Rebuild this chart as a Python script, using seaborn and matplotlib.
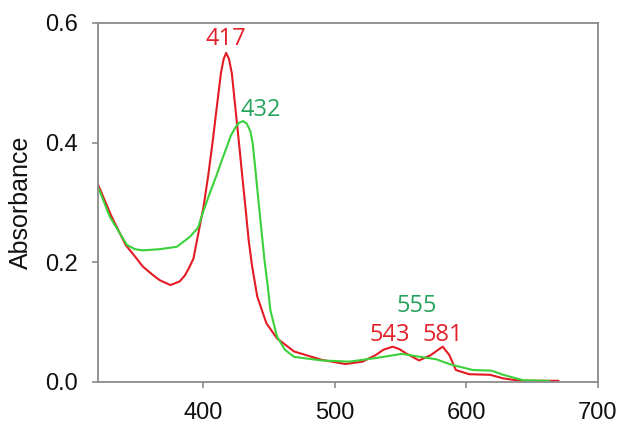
import matplotlib
matplotlib.use("Agg")
import matplotlib.pyplot as plt
import pandas as pd
import seaborn as sns

# red spectrum (Soret 417, Q bands 543 / 581)
RED_NM = [320, 330, 341, 348, 354, 361, 367, 375, 382, 386, 389, 392.5, 396.3,
          400.2, 404, 407.3, 410.3, 413.4, 415.5, 417.4, 419.5, 421.7, 424.3,
          426.9, 429.4, 432, 434.5, 437, 441, 448, 456, 469, 490, 508, 521, 531,
          537, 544, 549, 554, 564, 573, 578, 582, 587, 592, 602, 618, 628, 641,
          656, 670]
RED_ABS = [0.330, 0.278, 0.229, 0.210, 0.193, 0.180, 0.170, 0.162, 0.168, 0.178,
           0.190, 0.206, 0.249, 0.293, 0.349, 0.405, 0.460, 0.516, 0.540, 0.550,
           0.540, 0.516, 0.460, 0.405, 0.349, 0.293, 0.237, 0.195, 0.143, 0.098,
           0.073, 0.051, 0.037, 0.030, 0.034, 0.045, 0.054, 0.059, 0.055, 0.048,
           0.036, 0.045, 0.053, 0.059, 0.045, 0.020, 0.013, 0.012, 0.006, 0.002,
           0.002, 0.002]

# green spectrum (Soret 432, Q band 555)
GREEN_NM = [320, 329, 342, 348, 354, 367, 380, 390, 396, 400, 405, 410, 414,
            417.9, 421, 424.3, 427, 430.2, 433, 435.8, 437.5, 439.6, 442.1,
            444.7, 446.5, 449, 451, 456, 462, 469, 490, 511, 531, 551, 562, 577,
            587, 592, 605, 619, 628, 643, 663]
GREEN_ABS = [0.326, 0.276, 0.229, 0.222, 0.220, 0.222, 0.226, 0.243, 0.258, 0.285,
             0.316, 0.345, 0.370, 0.393, 0.412, 0.425, 0.433, 0.436, 0.432, 0.419,
             0.400, 0.355, 0.299, 0.243, 0.204, 0.160, 0.120, 0.076, 0.054, 0.042,
             0.036, 0.034, 0.040, 0.047, 0.043, 0.038, 0.030, 0.027, 0.020, 0.019,
             0.012, 0.003, 0.002]

PEAK_LABELS = ['417', '432', '555', '543', '581']
PEAK_X = [417, 444, 562, 542, 582]
PEAK_Y = [0.574, 0.455, 0.127, 0.079, 0.079]
PEAK_SERIES = ['red', 'green', 'green', 'red', 'red']

LINE_COLORS = {'red': '#e31b23', 'green': '#3ad13a'}
TEXT_COLORS = {'red': '#e3202a', 'green': '#27a35c'}
SPINE = '#8a8a8a'

df = pd.concat([
    pd.DataFrame({'nm': RED_NM, 'A': RED_ABS, 'series': 'red'}),
    pd.DataFrame({'nm': GREEN_NM, 'A': GREEN_ABS, 'series': 'green'}),
])

sns.set_style("white")
plt.rcParams['font.family'] = ['Liberation Sans', 'DejaVu Sans']

fig = plt.figure(figsize=(6.22, 4.25), dpi=100)
ax = fig.add_axes([0.1576, 0.1012, 0.8038, 0.8447])

sns.lineplot(data=df, x='nm', y='A', hue='series', hue_order=['red', 'green'],
             palette=LINE_COLORS, estimator=None, sort=False, linewidth=1.5,
             legend=False, ax=ax)
for ln in ax.lines:
    ln.set_solid_joinstyle('round')

for lab, x, y, s in zip(PEAK_LABELS, PEAK_X, PEAK_Y, PEAK_SERIES):
    ax.text(x, y, lab, color=TEXT_COLORS[s], fontsize=17, family='Open Sans',
            ha='center', va='center')

ax.set_xlim(320, 700)
ax.set_ylim(0, 0.6)
ax.set_xticks([400, 500, 600, 700])
ax.set_yticks([0.0, 0.2, 0.4, 0.6])
ax.set_yticklabels(['0.0', '0.2', '0.4', '0.6'])
ax.set_xlabel('')
ax.set_ylabel('Absorbance', fontsize=18, color='#111111', labelpad=9)

for sp in ax.spines.values():
    sp.set_color(SPINE)
    sp.set_linewidth(1.3)
ax.tick_params(axis='both', which='major', direction='out', length=4.5,
               width=1.2, color=SPINE, labelsize=17, labelcolor='#111111', pad=10,
               bottom=True, left=True)

fig.savefig('out.png', dpi=100)
